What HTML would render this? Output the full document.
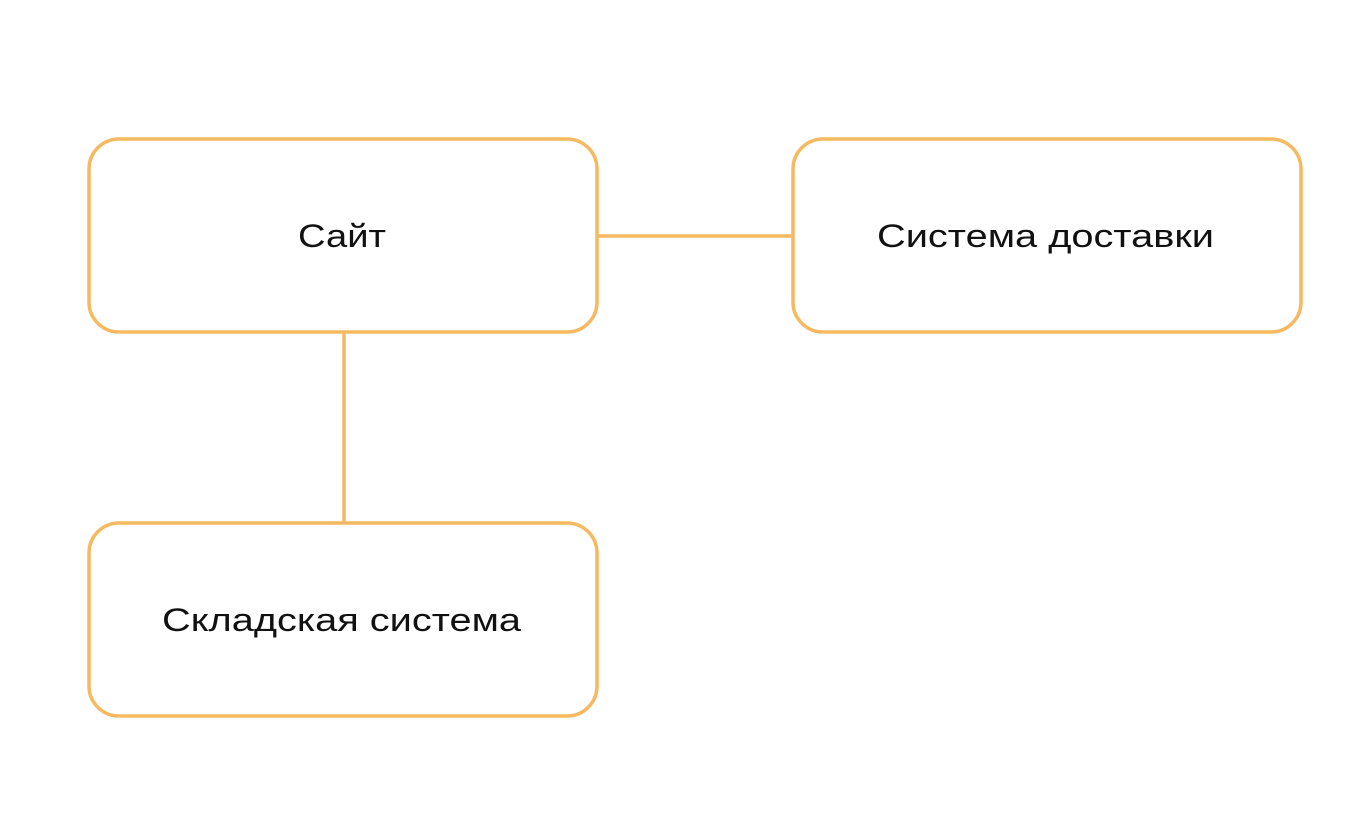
<!DOCTYPE html>
<html><head><meta charset="utf-8"><style>
html,body{margin:0;padding:0;background:#fff;width:1366px;height:820px;overflow:hidden}
svg text{font-family:"Liberation Sans","DejaVu Sans",sans-serif;font-size:32px;fill:#111}
</style></head><body>
<svg width="1366" height="820" viewBox="0 0 1366 820" xmlns="http://www.w3.org/2000/svg">
<g fill="none" stroke="#f5b961" stroke-width="3.5">
<rect x="89" y="139" width="508" height="193" rx="30"/>
<rect x="793" y="139" width="508" height="193" rx="30"/>
<rect x="89" y="523" width="508" height="193" rx="30"/>
<line x1="597" y1="236" x2="793" y2="236"/>
<line x1="344" y1="332" x2="344" y2="523"/>
</g>
<text x="298" y="247" textLength="88" lengthAdjust="spacingAndGlyphs">Сайт</text>
<text x="877" y="247" textLength="337" lengthAdjust="spacingAndGlyphs">Система доставки</text>
<text x="162" y="631" textLength="359" lengthAdjust="spacingAndGlyphs">Складская система</text>
</svg>
</body></html>
